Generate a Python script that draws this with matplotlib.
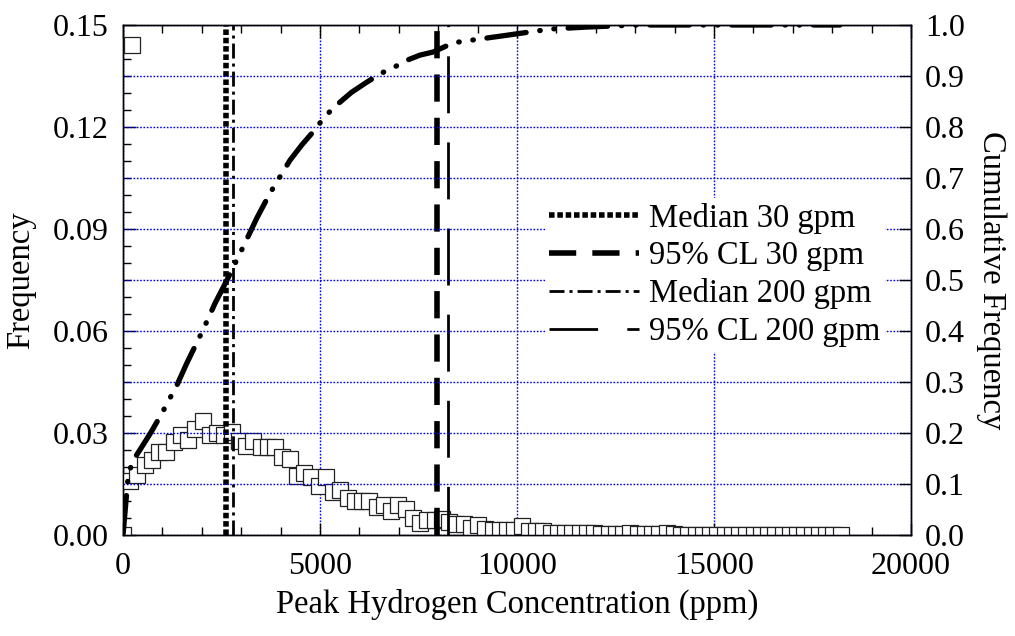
import numpy as np
import matplotlib
matplotlib.use("Agg")
import matplotlib.pyplot as plt
from matplotlib.ticker import MultipleLocator

plt.rcParams['font.family'] = ['Liberation Serif', 'DejaVu Serif']
plt.rcParams['font.size'] = 23.5

# histogram of peak hydrogen concentration, bins 184 ppm apart starting at 0
bin_width = 184
frequency = [
    0.0, 0.016, 0.0176, 0.0207, 0.0221, 0.0243, 0.0243, 0.0274, 0.0295, 0.0279,
    0.0311, 0.0335, 0.0293, 0.0301, 0.0295, 0.0303, 0.0276, 0.0261, 0.0277, 0.0259,
    0.0260, 0.0260, 0.0230, 0.0223, 0.0175, 0.0183, 0.0171, 0.0144, 0.0170, 0.0126,
    0.0131, 0.0108, 0.0100, 0.0100, 0.0100, 0.0083, 0.0087, 0.0070, 0.0087, 0.0077,
    0.0050, 0.0035, 0.0043, 0.0043, 0.0048, 0.0038, 0.0033, 0.0031, 0.0021, 0.0028,
    0.0019, 0.0015, 0.0014, 0.0015, 0.0014, 0.0026, 0.0011, 0.0011, 0.0011, 0.0007,
    0.0006, 0.0005, 0.0005, 0.0005, 0.0005, 0.0005, 0.0004, 0.0003, 0.0003, 0.0004,
    0.0005, 0.0004, 0.0003, 0.0002, 0.0004, 0.0005, 0.0003, 0.0001, 0.0001, 0.0,
    0.0001, 0.0, 0.0, 0.0001, 0.0, 0.0, 0.0, 0.0001, 0.0, 0.0,
    0.0, 0.0, 0.0, 0.0, 0.0, 0.0, 0.0, 0.0, 0.0, 0.0,
]
conc = np.arange(len(frequency)) * bin_width

# cumulative frequency curve
cum_x = [0, 130, 230, 430, 700, 990, 1140, 1370, 1620, 2030, 2340, 2640, 3050,
         3400, 3730, 4240, 4540, 4820, 5080, 5330, 5800, 6190, 6570, 6900, 7210,
         7540, 7870, 8380, 8730, 9750, 10840, 11780, 13050, 15000, 18200]
cum_y = [0, 0.114, 0.143, 0.167, 0.2, 0.239, 0.261, 0.294, 0.337, 0.402, 0.455,
         0.5, 0.565, 0.622, 0.67, 0.735, 0.765, 0.79, 0.816, 0.837, 0.868, 0.888,
         0.906, 0.918, 0.931, 0.941, 0.947, 0.965, 0.969, 0.98, 0.992, 0.996,
         1.0, 1.0, 1.0]

# vertical markers
median_30 = 2610
cl95_30 = 7960
median_200 = 2785
cl95_200 = 8255

fig = plt.figure(figsize=(10.15, 6.36), dpi=100)
ax = fig.add_axes([123 / 1015, 1 - 535 / 636, 788 / 1015, 510 / 636])
ax2 = ax.twinx()

sq, = ax.plot(conc, frequency, linestyle='none', marker='s', markersize=12,
              markerfacecolor='white', markeredgecolor='#222222',
              markeredgewidth=0.9, zorder=3)

l1 = ax.axvline(median_30, color='black', lw=4, linestyle=(0, (1, 0.5)), zorder=4)
l2 = ax.axvline(cl95_30, color='black', lw=4, linestyle=(0, (4.9, 2.9)), zorder=4)
l3 = ax.axvline(median_200, color='black', lw=2, linestyle=(0, (5.4, 1.8, 1.1, 1.8)), zorder=4)
l4 = ax.axvline(cl95_200, color='black', lw=2, linestyle=(3, (20.5, 10.5)), zorder=4)

ax2.plot(cum_x, cum_y, color='black', lw=3.8, solid_capstyle='round',
         dash_capstyle='round', linestyle=(0, (7.5, 2.6, 0.1, 2.6, 0.1, 2.6)))

ax.set_xlim(0, 20000)
ax.set_ylim(0, 0.15)
ax2.set_ylim(0, 1.0)

ax.xaxis.set_major_locator(MultipleLocator(5000))
ax.xaxis.set_minor_locator(MultipleLocator(1000))
ax.yaxis.set_major_locator(MultipleLocator(0.03))
ax.yaxis.set_minor_locator(MultipleLocator(0.005))
ax2.yaxis.set_major_locator(MultipleLocator(0.1))
ax.yaxis.set_major_formatter(plt.FormatStrFormatter('%.2f'))
ax2.yaxis.set_major_formatter(plt.FormatStrFormatter('%.1f'))

ax.tick_params(axis='x', which='both', direction='in', top=True, pad=12)
ax.tick_params(axis='y', which='both', direction='in', left=True, right=False, pad=10)
ax2.tick_params(axis='y', which='both', direction='in', pad=10)
for a in (ax, ax2):
    a.tick_params(which='major', length=9, width=1, labelsize=23)
    a.tick_params(which='minor', length=6, width=1)
    for s in a.spines.values():
        s.set_linewidth(1)

grid_kw = dict(color='#0000ee', lw=1.0, linestyle=(0, (1.2, 1.2)))
ax.grid(axis='x', which='major', **grid_kw)
ax2.grid(axis='y', which='major', **grid_kw)

ax.set_xlabel('Peak Hydrogen Concentration (ppm)', labelpad=6)
ax.set_ylabel('Frequency', labelpad=12)
ax2.set_ylabel('Cumulative Frequency', rotation=270, labelpad=30)

leg = ax2.legend([l1, l2, l3, l4],
                 ['Median 30 gpm', '95% CL 30 gpm', 'Median 200 gpm', '95% CL 200 gpm'],
                 loc='center left', bbox_to_anchor=(0.535, 0.51), frameon=True,
                 fancybox=False, edgecolor='none', facecolor='white', framealpha=1,
                 handlelength=2.75, handletextpad=0.3, labelspacing=0.22,
                 borderpad=0.15, borderaxespad=0)
leg.set_zorder(10)

leg_sq = ax2.legend([sq], [''], loc='center', bbox_to_anchor=(0.012, 0.955),
                    frameon=False, handlelength=1, handletextpad=0, borderpad=0,
                    borderaxespad=0)
ax2.add_artist(leg)

fig.savefig('out.png', dpi=100)
